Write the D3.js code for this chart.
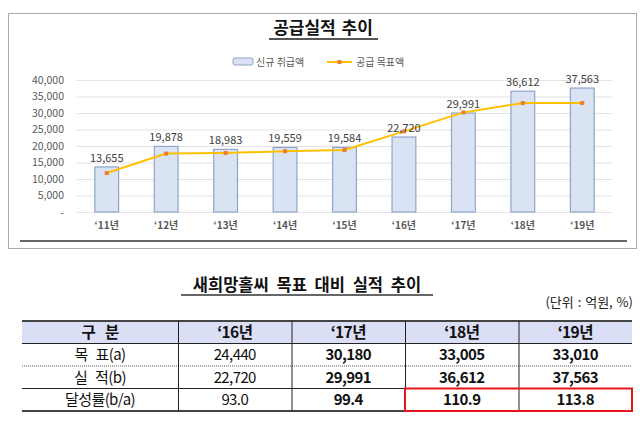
<!DOCTYPE html>
<html><head><meta charset="utf-8">
<script src="https://cdn.jsdelivr.net/npm/d3@7"></script>
<style>
html,body{margin:0;padding:0;background:#fff;}
svg{display:block;font-family:"Noto Sans CJK KR","Noto Sans",sans-serif;}
</style></head>
<body><svg id="c" width="640" height="422"></svg>
<script>
const years = ["‘11년","‘12년","‘13년","‘14년","‘15년","‘16년","‘17년","‘18년","‘19년"];
const newLoans = [13655,19878,18983,19559,19584,22720,29991,36612,37563];
const targets = [11800,17700,17900,18400,18800,24440,30180,33005,33010];
const yTicks = [0,5000,10000,15000,20000,25000,30000,35000,40000];

const tableHeader = ["구 분","‘16년","‘17년","‘18년","‘19년"];
const rowLabels = ["목 표(a)","실 적(b)","달성률(b/a)"];
const tTarget = ["24,440","30,180","33,005","33,010"];
const tActual = ["22,720","29,991","36,612","37,563"];
const tRate = ["93.0","99.4","110.9","113.8"];

const svg = d3.select("#c");
const fmt = d3.format(",");

// outer dotted frame
svg.append("rect").attr("x",8.5).attr("y",13.5).attr("width",628).attr("height",235)
  .attr("fill","none").attr("stroke","#555").attr("stroke-width",1).attr("stroke-dasharray","1,1");

// title
svg.append("text").attr("x",323).attr("y",34).attr("text-anchor","middle")
  .attr("font-size",17).attr("font-weight","bold").attr("fill","#111").attr("word-spacing",2).text("공급실적 추이");
svg.append("line").attr("x1",269).attr("x2",378).attr("y1",39).attr("y2",39)
  .attr("stroke","#555").attr("stroke-width",2);

// legend
const lg = svg.append("g").attr("font-size",10).attr("fill","#595959");
lg.append("rect").attr("x",233).attr("y",58).attr("width",20).attr("height",7).attr("rx",2)
  .attr("fill","#DAE3F3").attr("stroke","#8FA5C9");
lg.append("text").attr("x",256).attr("y",65.5).text("신규 취급액");
lg.append("line").attr("x1",327).attr("x2",352).attr("y1",62).attr("y2",62).attr("stroke","#FFC000").attr("stroke-width",2);
lg.append("rect").attr("x",337.5).attr("y",60).attr("width",4).attr("height",4).attr("fill","#ED7D31");
lg.append("text").attr("x",356).attr("y",65.5).text("공급 목표액");

// scales
const x = d3.scaleBand().domain(years).range([77,612]).paddingInner(0.6).paddingOuter(0.3);
const y = d3.scaleLinear().domain([0,40000]).range([212,80]);

// grid
svg.append("g").selectAll("line").data(yTicks).join("line")
  .attr("x1",77).attr("x2",612).attr("y1",d=>y(d)+0.5).attr("y2",d=>y(d)+0.5)
  .attr("stroke","#E3E3E3").attr("stroke-width",1);

// y axis
const ya = svg.append("g").attr("transform","translate(64,0)")
  .call(d3.axisLeft(y).tickValues(yTicks).tickSize(0).tickPadding(0).tickFormat(d=>d===0?"-":fmt(d)));
ya.select(".domain").remove();
ya.selectAll("text").attr("font-size",10.5).attr("fill","#595959").attr("font-family","Noto Sans CJK KR");

// x axis
const xa = svg.append("g").attr("transform","translate(0,212)")
  .call(d3.axisBottom(x).tickSize(0).tickPadding(10));
xa.select(".domain").remove();
xa.selectAll("text").attr("font-size",10).attr("fill","#595959").attr("font-weight","bold").attr("font-family","Noto Sans CJK KR");

// bars
svg.append("g").selectAll("rect").data(newLoans).join("rect")
  .attr("x",(d,i)=>x(years[i])).attr("width",x.bandwidth())
  .attr("y",d=>y(d)).attr("height",d=>y(0)-y(d))
  .attr("fill","#DAE3F3").attr("stroke","#8FA5C9").attr("stroke-width",1.2);

// line
const cx = i => x(years[i]) + x.bandwidth()/2;
svg.append("path").datum(targets)
  .attr("d", d3.line().x((d,i)=>cx(i)).y(d=>y(d)))
  .attr("fill","none").attr("stroke","#FFC000").attr("stroke-width",2);
svg.append("g").selectAll("rect").data(targets).join("rect")
  .attr("x",(d,i)=>cx(i)-2).attr("y",d=>y(d)-2).attr("width",4).attr("height",4).attr("fill","#ED7D31");

// data labels
svg.append("g").selectAll("text").data(newLoans).join("text")
  .attr("x",(d,i)=>cx(i)).attr("y",d=>y(d)-5).attr("text-anchor","middle")
  .attr("font-size",11).attr("fill","#404040").text(d=>fmt(d));

// separator line
svg.append("line").attr("x1",20).attr("x2",627).attr("y1",241).attr("y2",241)
  .attr("stroke","#333").attr("stroke-width",1.5);

// table title
svg.append("text").attr("x",307).attr("y",291).attr("text-anchor","middle")
  .attr("font-size",16.5).attr("font-weight","bold").attr("fill","#111").attr("word-spacing",4).text("새희망홀씨 목표 대비 실적 추이");
svg.append("line").attr("x1",181).attr("x2",433).attr("y1",295).attr("y2",295)
  .attr("stroke","#333").attr("stroke-width",1.5);
svg.append("text").attr("x",633).attr("y",307).attr("text-anchor","end")
  .attr("font-size",13).attr("fill","#222").attr("word-spacing",1).text("(단위 : 억원, %)");

// table
const colX = d3.scaleBand().domain(tableHeader.slice(1)).range([178,632]);
const cols = [{x0:22,x1:178}].concat(tableHeader.slice(1).map(h=>({x0:colX(h),x1:colX(h)+colX.bandwidth()})));
const rowY = d3.scaleBand().domain([0,1,2,3]).range([321,411]);
const rh = rowY.bandwidth();

svg.append("rect").attr("x",22).attr("y",321).attr("width",610).attr("height",rh).attr("fill","#DADFF5");

const rows = [tableHeader,[rowLabels[0]].concat(tTarget),[rowLabels[1]].concat(tActual),[rowLabels[2]].concat(tRate)];
const tg = svg.append("g");
rows.forEach((r,ri)=>{
  r.forEach((v,ci)=>{
    const c = cols[ci];
    tg.append("text").attr("x",(c.x0+c.x1)/2).attr("y",rowY(ri)+rh/2+5.5)
      .attr("text-anchor","middle").attr("font-size",ri===0?15.5:15)
      .attr("font-weight",(ri===0||ci>=2)?"bold":"normal")
      .attr("word-spacing",ci===0?(ri===0?7:5):0)
      .attr("fill","#111").attr("letter-spacing",-0.6).text(v);
  });
});
// horizontal lines
svg.append("line").attr("x1",22).attr("x2",632).attr("y1",321).attr("y2",321).attr("stroke","#444").attr("stroke-width",2);
svg.append("line").attr("x1",22).attr("x2",632).attr("y1",rowY(1)).attr("y2",rowY(1)).attr("stroke","#222").attr("stroke-width",1);
svg.append("line").attr("x1",22).attr("x2",632).attr("y1",rowY(2)).attr("y2",rowY(2)).attr("stroke","#555").attr("stroke-width",1).attr("stroke-dasharray","1,1");
svg.append("line").attr("x1",22).attr("x2",632).attr("y1",rowY(3)).attr("y2",rowY(3)).attr("stroke","#222").attr("stroke-width",1);
svg.append("line").attr("x1",22).attr("x2",632).attr("y1",411).attr("y2",411).attr("stroke","#444").attr("stroke-width",2);
// vertical lines
cols.slice(1).forEach(c=>{
  svg.append("line").attr("x1",c.x0+0.5).attr("x2",c.x0+0.5).attr("y1",321).attr("y2",411).attr("stroke","#222").attr("stroke-width",1);
});
// red highlight
svg.append("rect").attr("x",cols[3].x0).attr("y",rowY(3)).attr("width",cols[4].x1-cols[3].x0).attr("height",rh)
  .attr("fill","none").attr("stroke","#E8141B").attr("stroke-width",2);
</script></body></html>
